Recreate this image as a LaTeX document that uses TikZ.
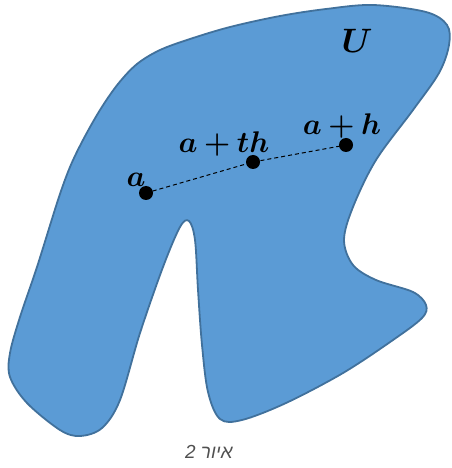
\RequirePackage{fix-cm}
\documentclass[tikz,border=0pt]{standalone}
\usepackage{fontspec}
\usepackage{bm}
\newfontfamily\hebfont[Script=Hebrew]{Liberation Sans}
\TeXXeTstate=1
\definecolor{fillblue}{HTML}{5B9BD5}
\definecolor{edgeblue}{HTML}{41719C}
\definecolor{capgray}{HTML}{505050}
\tikzset{
  region/.style={fill=fillblue, draw=edgeblue, line width=1.8bp, line join=round},
  pointdot/.style={circle, fill=black, inner sep=0pt, minimum size=14bp},
  lbl/.style={anchor=base, inner sep=0pt, font=\fontsize{30}{32}\selectfont},
  biglbl/.style={anchor=base, inner sep=0pt, font=\fontsize{34}{36}\selectfont},
  seg/.style={line width=1bp, dash pattern=on 4bp off 3bp},
  caption/.style={anchor=base, inner sep=0pt, text=capgray, font=\hebfont\itshape\fontsize{19}{21}\selectfont}
}
\begin{document}
\begin{tikzpicture}[x=1bp,y=-1bp]
\useasboundingbox (0,0) rectangle (452,468);
\draw[region] plot[smooth cycle, tension=0.55] coordinates {
 (137,64) (160,50) (190,39) (230,27) (280,16) (326,9) (373,5) (426,12) (447,25) (449,45) (439,73) (413,110)
 (376,160) (353,207) (344,240) (353,265) (376,280) (413,292) (426,305) (422,318)
 (393,340) (343,373) (286,403) (242,420) (220,419) (208,392) (202,345) (198,290)
 (195,240) (189,221) (180,227) (163,267) (140,333) (120,400) (102,428) (80,436)
 (60,430) (27,403) (10,377) (10,353) (20,317) (37,267) (58,200) (70,167) (83,140) (100,110) (118,84)
};
\node[pointdot] (a) at (146,193) {};
\node[pointdot] (ath) at (253,162) {};
\node[pointdot] (ah) at (346,145) {};
\draw[seg] (a.center) -- (ath.center) -- (ah.center);
\node[lbl] (la) at (136,187) {$\bm{a}$};
\node[lbl] (lath) at (224,153) {$\bm{a+th}$};
\node[lbl] (lah) at (342,135) {$\bm{a+h}$};
\node[biglbl] (lu) at (357,53) {$\bm{U}$};
\node[caption] (cap) at (209,458) {\beginR איור 2\endR};
\end{tikzpicture}
\end{document}
